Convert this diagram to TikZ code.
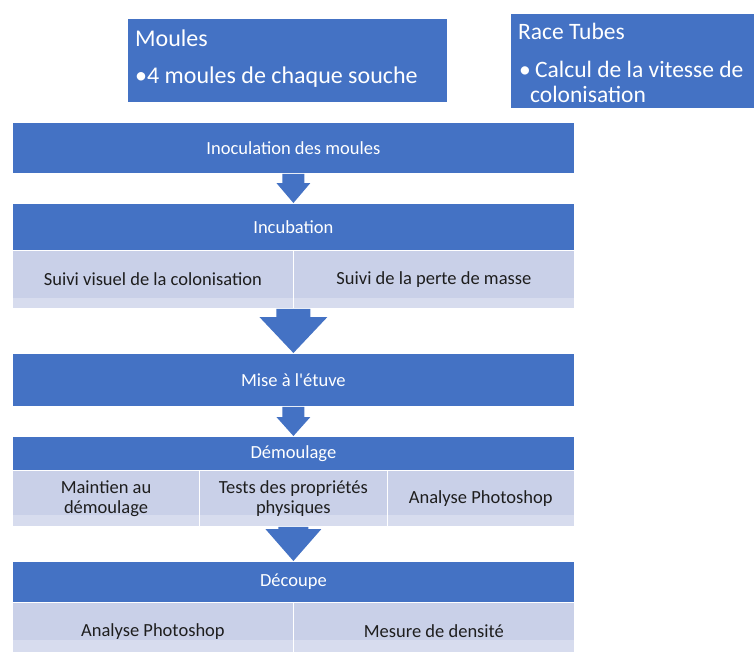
\documentclass[tikz,border=0pt]{standalone}
\usepackage{fontspec}
\setmainfont{Carlito}[Ligatures=TeXOff]
\usetikzlibrary{calc}
\definecolor{dk}{HTML}{4472C4}
\definecolor{lt}{HTML}{C9D0E8}
\definecolor{lts}{HTML}{D7DCEE}
\definecolor{txt}{HTML}{1E1E1E}
\newcommand\blockarrow[7]{%
  % #1 node giving x, #2 start node (y), #3 target node, #4 shaft half, #5 head half, #6 head length
  \fill[dk] let \p1=(#1.south), \p3=(#2.south), \p2=(#3.north) in
    (\x1-#4pt,\y3) -- (\x1+#4pt,\y3) -- (\x1+#4pt,\y2+#6pt) -- (\x1+#5pt,\y2+#6pt)
    -- (\x1,\y2) -- (\x1-#5pt,\y2+#6pt) -- (\x1-#4pt,\y2+#6pt) -- cycle;#7}
\begin{document}
\begin{tikzpicture}[x=1pt,y=-1pt,
  box/.style={rectangle, draw=white, line width=0.8pt, inner sep=0pt, anchor=north west, align=center},
  hdr/.style={box, fill=dk, text=white, font=\fontsize{18.5}{20}\selectfont},
  sub/.style={box, fill=lt, text=txt, font=\fontsize{18.5}{20}\selectfont,
    path picture={\fill[lts] ([yshift=#1]path picture bounding box.south west) rectangle (path picture bounding box.south east);}},
  sub/.default=10pt,
  top/.style={rectangle, fill=dk, draw=white, line width=0.6pt, inner sep=0pt, anchor=north west},
  toptxt/.style={anchor=base west, inner sep=0pt, text=white},
]
\useasboundingbox[fill=white] (0,0) rectangle (754,651);

% top boxes
\node[top, minimum width=320pt, minimum height=84pt] (moules) at (127,18) {};
\node[toptxt, font=\fontsize{24}{28}\selectfont] (mt1) at (135,46) {Moules};
\node[toptxt, font=\fontsize{24}{28}\selectfont] (mt2) at (135,83) {•4 moules de chaque souche};

\node[top, minimum width=250pt, minimum height=95pt] (race) at (510,13) {};
\node[toptxt, font=\fontsize{23.5}{28}\selectfont] (rt1) at (518,39) {Race Tubes};
\node[toptxt, font=\fontsize{23.5}{28}\selectfont] (rt2) at (519,77) {•};
\node[toptxt, font=\fontsize{23.5}{28}\selectfont] (rt3) at (535,77) {Calcul de la vitesse de};
\node[toptxt, font=\fontsize{23.5}{28}\selectfont] (rt4) at (530,102) {colonisation};

% stage 1
\node[hdr, minimum width=562pt, minimum height=51pt] (inoc) at (12,122) {Inoculation des moules};

% stage 2
\node[hdr, minimum width=562pt, minimum height=47pt] (incub) at (12,203) {Incubation};
\node[sub, minimum width=281pt, minimum height=58pt] (sv1) at (12,250) {Suivi visuel de la colonisation};
\node[sub, minimum width=281pt, minimum height=58pt] (sv2) at (293,250) {Suivi de la perte de masse};

% stage 3
\node[hdr, minimum width=562pt, minimum height=53pt] (mise) at (12,353) {Mise à l'étuve};

% stage 4
\node[hdr, minimum width=562pt, minimum height=34pt] (demo) at (12,436) {Démoulage};
\node[sub=11pt, minimum width=187.3pt, minimum height=56pt] (dm1) at (12,470) {Maintien au\\démoulage};
\node[sub=11pt, minimum width=187.3pt, minimum height=56pt] (dm2) at (199.3,470) {Tests des propriétés\\physiques};
\node[sub=11pt, minimum width=187.4pt, minimum height=56pt] (dm3) at (386.6,470) {Analyse Photoshop};

% stage 5
\node[hdr, minimum width=562pt, minimum height=41pt] (decoupe) at (12,561) {Découpe};
\node[sub=20pt, minimum width=281pt, minimum height=58pt] (dc1) at (12,602) {Analyse Photoshop};
\node[sub=20pt, minimum width=281pt, minimum height=58pt] (dc2) at (293,602) {Mesure de densité};

% arrows
\blockarrow{inoc}{inoc}{incub}{11}{17}{20}{}
\blockarrow{incub}{sv1}{mise}{17}{34}{36}{}
\blockarrow{mise}{mise}{demo}{11}{17}{19}{}
\blockarrow{demo}{dm1}{decoupe}{15}{28}{32}{}
\end{tikzpicture}
\end{document}
